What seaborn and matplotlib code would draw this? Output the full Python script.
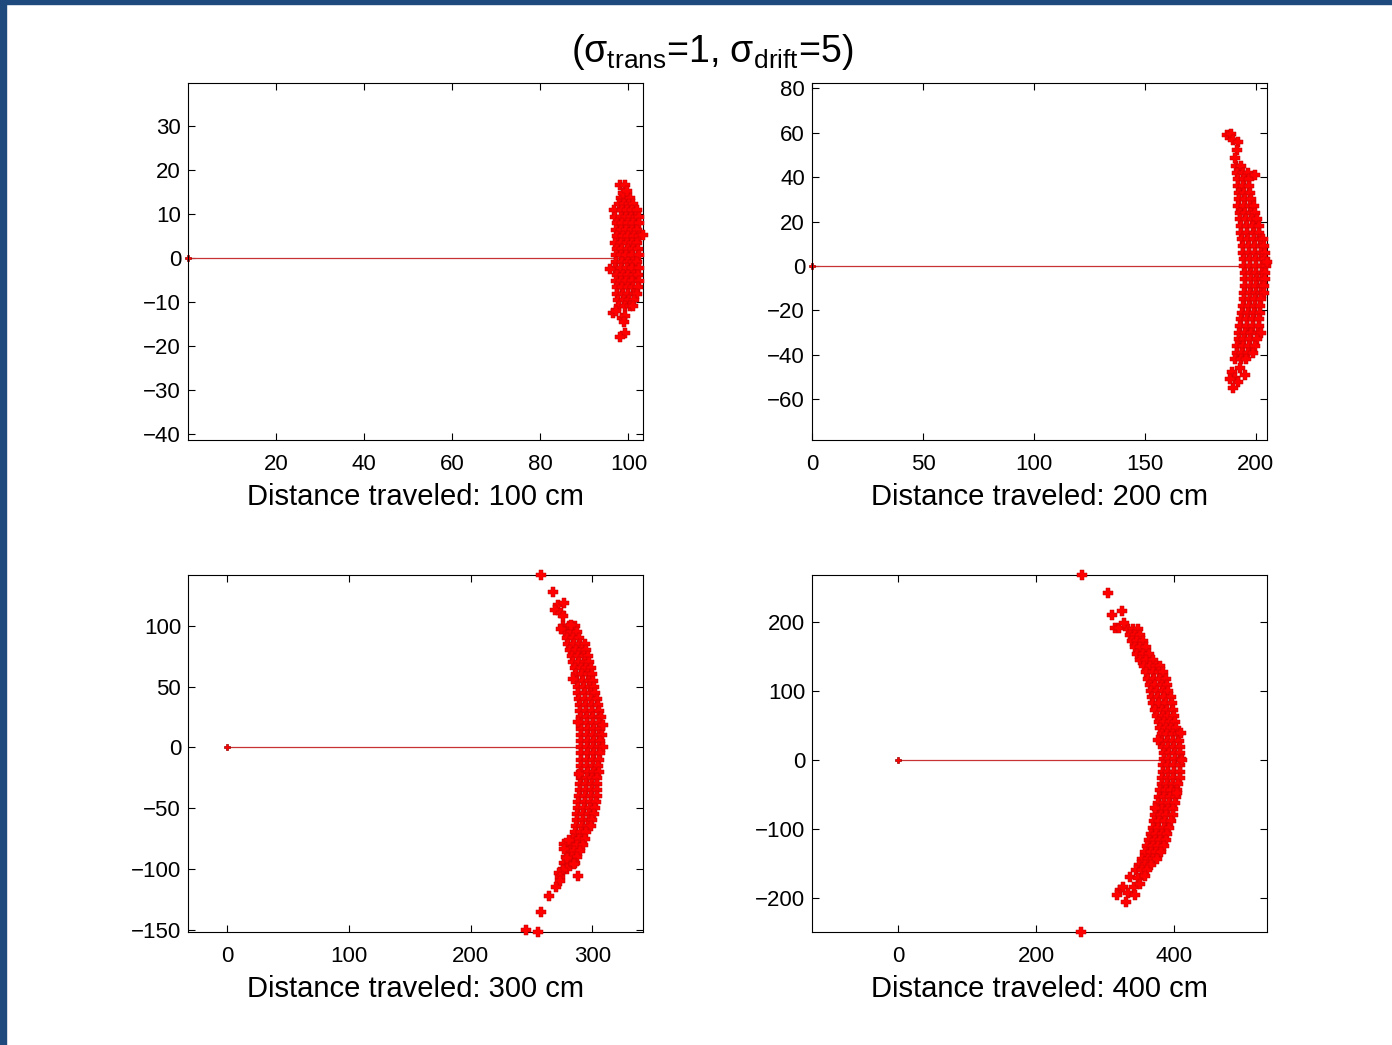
import matplotlib
matplotlib.use("Agg")
import matplotlib.pyplot as plt
from matplotlib.patches import Rectangle
import pandas as pd
import seaborn as sns

# === Panel settings ===
distances = [100, 200, 300, 400]
xticks = [[20, 40, 60, 80, 100], [0, 50, 100, 150, 200], [0, 100, 200, 300], [0, 200, 400]]
yticks = [list(range(-40, 31, 10)), list(range(-60, 81, 20)),
          [-150, -100, -50, 0, 50, 100], [-200, -100, 0, 100, 200]]
xlims = [(0, 103.3), (0, 205), (-32, 341.5), (-124.6, 534.8)]
ylims = [(-41.4, 39.8), (-78.4, 82.4), (-151.9, 141.8), (-249.3, 268)]
title_text = r"(σ$_{\mathrm{trans}}$=1, σ$_{\mathrm{drift}}$=5)"

# === Point clouds: (y, [x values]) rows + stray points ===
rows_100 = [
    (13.6, [98.4, 99.6, 100.4]),
    (12.2, [97.9, 99.0, 100.2, 101.0]),
    (10.8, [96.8, 98.5, 99.7, 100.9, 101.9]),
    (9.3, [97.0, 98.2, 99.4, 100.6, 101.8, 102.4]),
    (7.9, [97.3, 98.6, 99.9, 101.1, 102.3]),
    (6.4, [97.1, 98.3, 99.5, 100.8, 102.0]),
    (4.9, [97.4, 98.7, 99.8, 101.2, 102.5]),
    (3.5, [97.0, 98.2, 99.6, 100.7, 101.9]),
    (2.0, [97.3, 98.5, 99.9, 101.0, 102.2]),
    (0.6, [97.1, 98.4, 99.5, 100.9, 102.4]),
    (-0.9, [97.2, 98.6, 99.8, 101.1, 102.0]),
    (-2.3, [97.0, 98.3, 99.6, 100.8, 102.3]),
    (-3.8, [97.4, 98.7, 99.9, 101.2, 102.1]),
    (-5.2, [97.1, 98.4, 99.5, 100.9, 102.4]),
    (-6.7, [97.3, 98.6, 99.8, 101.0, 102.2]),
    (-8.1, [97.5, 98.8, 100.0, 101.3, 102.0]),
    (-9.6, [97.6, 98.9, 100.1, 101.2]),
    (-11.0, [97.8, 99.1, 100.3, 101.0]),
]
extra_100 = [(98.1, 16.6), (99.1, 16.6), (98.8, 14.8), (99.6, 15.2), (103.3, 5.2),
             (95.7, -2.5), (96.6, -12.5), (97.2, -12.0), (98.6, -13.6), (99.3, -13.3),
             (98.9, -14.5), (99.3, -17.0), (98.1, -18.0)]

rows_200 = [
    (45, [191.0, 193.5]),
    (42, [191.5, 194.0, 196.5]),
    (39, [192.0, 194.5, 197.0]),
    (36, [191.8, 194.3, 196.8]),
    (33, [192.3, 194.8, 197.5]),
    (30, [192.5, 195.0, 197.8]),
    (27, [192.0, 194.7, 197.3, 199.0]),
    (24, [192.8, 195.3, 198.0, 199.6]),
    (21, [193.0, 195.6, 198.2, 200.5]),
    (18, [193.3, 196.0, 198.7, 201.2]),
    (15, [193.5, 196.2, 199.0, 201.6]),
    (12, [193.8, 196.5, 199.2, 201.9, 203.4]),
    (9, [194.0, 196.7, 199.5, 202.2, 203.8]),
    (6, [194.2, 197.0, 199.7, 202.4, 204.0]),
    (3, [194.5, 197.2, 199.9, 202.6, 204.3]),
    (0, [194.8, 197.4, 200.1, 202.7, 204.5]),
    (-3, [195.0, 197.6, 200.2, 202.8, 204.2]),
    (-6, [195.2, 197.8, 200.3, 202.9, 204.0]),
    (-9, [195.0, 197.6, 200.1, 202.6, 203.8]),
    (-12, [194.8, 197.4, 199.9, 202.4, 203.6]),
    (-15, [194.6, 197.2, 199.7, 202.2]),
    (-18, [194.3, 196.9, 199.5, 202.0]),
    (-21, [193.9, 196.6, 199.3, 201.8]),
    (-24, [193.5, 196.2, 198.9, 201.5]),
    (-27, [193.0, 195.8, 198.5, 201.2]),
    (-30, [192.6, 195.3, 198.0, 200.8, 202.5]),
    (-33, [192.2, 194.8, 197.5, 200.3]),
    (-36, [191.7, 194.3, 196.9, 199.5]),
    (-39, [191.3, 193.8, 196.4, 198.5]),
    (-42, [190.8, 193.3, 195.7]),
]
extra_200 = [(186.8, 59.0), (188.7, 59.3), (189.7, 56.8), (191.9, 56.0), (191.6, 52.3),
             (190.7, 48.5), (199.5, 41.0), (204.8, 1.9), (193.0, -46.0), (189.1, -47.6),
             (190.5, -50.6), (192.0, -52.1), (195.0, -49.1), (189.8, -55.1), (188.2, -51.0)]

rows_300 = [
    (100, [276, 281, 286]),
    (95, [277.5, 282.5, 287.5]),
    (90, [279, 284, 289]),
    (85, [280, 285, 290, 294]),
    (80, [281.5, 286.5, 291.5, 295]),
    (75, [283, 288, 293, 296.5]),
    (70, [284, 289, 294, 297.5]),
    (65, [285.5, 290.5, 295, 298.5]),
    (60, [286.5, 291.5, 296, 299.5]),
    (55, [287, 292, 297, 300.5]),
    (50, [288, 293, 298, 301.5]),
    (45, [288.5, 293.5, 298.5, 302.5]),
    (40, [289, 294, 299, 303.5]),
    (35, [289.5, 294.5, 299.5, 304.5]),
    (30, [290, 295, 300, 305]),
    (25, [290.5, 295.5, 300.5, 305.5, 307]),
    (20, [290.5, 295.5, 300.5, 305.5]),
    (15, [291, 296, 301, 306]),
    (10, [290.5, 295.5, 300.5, 305.5, 308]),
    (5, [291, 296, 301, 306]),
    (0, [290.5, 295.5, 300.5, 305.5, 308.5]),
    (-5, [291, 296, 301, 306]),
    (-10, [290.5, 295.5, 300.5, 305]),
    (-15, [290.5, 295.5, 300.5, 304.5]),
    (-20, [291, 296, 301, 305.5]),
    (-25, [290.5, 295.5, 300, 304]),
    (-30, [290, 295, 300, 304]),
    (-35, [289.5, 294.5, 299.5, 303.5]),
    (-40, [289, 294, 299, 303.5]),
    (-45, [288.5, 293.5, 298.5, 303]),
    (-50, [288, 293, 298, 302]),
    (-55, [287.5, 292.5, 297.5, 301]),
    (-60, [287, 292, 297, 300]),
    (-65, [286.5, 291.5, 296, 299]),
    (-70, [285.5, 290.5, 295]),
    (-75, [284, 289, 294]),
    (-80, [282, 287, 292]),
    (-85, [280.5, 285, 290]),
    (-90, [278.5, 283, 287.5]),
    (-95, [277, 281.5, 285.5]),
    (-100, [275.5, 279.5]),
]
extra_300 = [(258.0, 141.8), (267.5, 128.1), (271.6, 117.0), (268.9, 112.9), (277.0, 118.6),
             (274.3, 110.9), (275.7, 108.2), (282.5, 100.8), (274.3, 97.3), (283.9, 56.3),
             (288.1, 20.5), (308.5, 18.0), (288.8, -21.6), (277.0, -79.5), (281.1, -76.2),
             (276.5, -84.0), (279.0, -91.0), (285.2, -96.1), (275.5, -100.5), (272.5, -103.0),
             (273.0, -106.3), (288.0, -105.7), (273.0, -109.6), (269.7, -114.5),
             (264.2, -121.9), (258.0, -135.5), (245.6, -150.6), (255.2, -151.9)]

rows_400 = [
    (190, [333, 341, 348]),
    (181, [336, 344, 351]),
    (172, [339, 347, 355]),
    (163, [343, 351, 359]),
    (154, [347, 355, 364]),
    (145, [351, 360, 369]),
    (136, [356, 365, 374, 380]),
    (127, [360, 369, 378, 384]),
    (118, [363, 371, 380, 388]),
    (109, [365, 373, 382, 390]),
    (100, [366, 375, 384, 392]),
    (91, [368, 377, 386, 395]),
    (82, [370, 379, 388, 397]),
    (73, [373, 382, 390, 398]),
    (64, [376, 384, 392, 400]),
    (55, [378, 386, 394, 401]),
    (46, [380, 388, 396, 403]),
    (37, [382, 390, 398, 406]),
    (28, [383, 391, 399, 407]),
    (19, [384, 392, 400, 408]),
    (10, [385, 393, 401, 409]),
    (1, [385, 393, 401, 410]),
    (-8, [384, 392, 400, 409]),
    (-17, [384, 392, 400, 408]),
    (-26, [383, 391, 399, 408]),
    (-35, [382, 390, 398, 406]),
    (-44, [380, 388, 396, 405]),
    (-53, [378, 386, 394, 403]),
    (-62, [377, 385, 393, 401]),
    (-71, [375, 383, 391, 399]),
    (-80, [373, 381, 389, 398]),
    (-89, [371, 379, 387, 396]),
    (-98, [369, 377, 385, 393]),
    (-107, [366, 374, 382, 390]),
    (-116, [364, 372, 380, 388]),
    (-125, [361, 369, 377, 385]),
    (-134, [358, 366, 374, 381]),
    (-143, [354, 362, 370, 376]),
    (-152, [350, 358, 366]),
    (-160, [345, 353, 361]),
]
extra_400 = [(266.7, 268.0), (304.8, 241.6), (310.6, 210.1), (324.2, 216.4), (314.5, 191.7),
             (320.3, 191.7), (328.0, 199.0), (376.3, 29.0), (412.0, 0.0), (410.0, 38.6),
             (404.0, -48.0), (372.5, -70.0), (336.2, -169.1), (348.3, -170.6),
             (358.0, -168.1), (321.7, -188.4), (326.5, -183.6), (342.5, -183.6),
             (350.7, -179.7), (317.0, -195.7), (333.8, -193.2), (343.5, -195.7),
             (330.0, -205.4), (265.2, -249.3)]

clouds = [(rows_100, extra_100), (rows_200, extra_200), (rows_300, extra_300), (rows_400, extra_400)]

# === Style ===
sns.set_style("ticks")
plt.rcParams["font.family"] = ["Liberation Sans", "DejaVu Sans"]
plt.rcParams["mathtext.fontset"] = "custom"
plt.rcParams["mathtext.rm"] = "Liberation Sans"
plt.rcParams["axes.linewidth"] = 0.8
for key in ["text.color", "axes.labelcolor", "xtick.color", "ytick.color", "axes.edgecolor"]:
    plt.rcParams[key] = "black"

fig = plt.figure(figsize=(13.92, 10.45), dpi=100)
W, H = 1392.0, 1045.0
boxes = [(188, 83), (812, 83), (188, 575), (812, 575)]

for i, d in enumerate(distances):
    left, top = boxes[i]
    ax = fig.add_axes([left / W, 1 - (top + 357) / H, 455 / W, 357 / H])
    rows, extra = clouds[i]
    pts = [(x, y) for y, xs in rows for x in xs] + extra
    df = pd.DataFrame(pts, columns=["x", "y"])

    ax.plot([0, d], [0, 0], color="#c83232", lw=0.9, zorder=1)
    ax.plot([0], [0], marker="P", ms=4.5, color="#ff0000", mec="#a00000", mew=0.5,
            clip_on=False, zorder=2)
    sns.scatterplot(data=df, x="x", y="y", ax=ax, marker="P", s=50, color="#ff0000",
                    edgecolor="#c00000", linewidth=0.35, zorder=3, clip_on=False, legend=False)

    ax.set_xlim(*xlims[i])
    ax.set_ylim(*ylims[i])
    ax.set_xticks(xticks[i])
    ax.set_yticks(yticks[i])
    ax.tick_params(direction="in", length=5, width=0.8, top=True, right=True,
                   labelsize=16, pad=10)
    ax.tick_params(axis="y", pad=5)
    ax.set_xlabel("Distance traveled: %d cm" % d, fontsize=21, labelpad=6)
    ax.set_ylabel("")
    for s in ax.spines.values():
        s.set_visible(True)

fig.text(712 / W, 1 - 62 / H, title_text, ha="center", va="baseline", fontsize=27)

# blue frame on the top and left edges
fig.patches.append(Rectangle((0, 1 - 4 / H), 1, 4 / H, transform=fig.transFigure,
                             color="#1f4a7e", zorder=10))
fig.patches.append(Rectangle((0, 0), 6 / W, 1, transform=fig.transFigure,
                             color="#1f4a7e", zorder=10))

plt.savefig("out.png", dpi=100)
plt.close()
